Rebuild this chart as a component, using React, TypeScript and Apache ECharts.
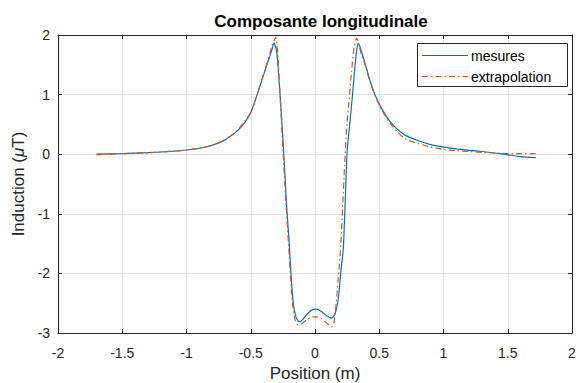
import React, { useEffect, useRef } from "react";
import * as echarts from "echarts";

const titleText = "Composante longitudinale";
const xName = "Position (m)";
const seriesNames = ["mesures", "extrapolation"];

const mesuresX = [-1.7, -1.5, -1.3, -1.1, -1.0, -0.9, -0.8, -0.7, -0.66, -0.6, -0.55, -0.5, -0.45, -0.4, -0.37, -0.34, -0.319, -0.3, -0.285, -0.272, -0.254, -0.24, -0.22, -0.202, -0.187, -0.169, -0.15, -0.13, -0.117, -0.09, -0.06, -0.03, 0.01, 0.05, 0.09, 0.13, 0.155, 0.176, 0.19, 0.202, 0.22, 0.235, 0.25, 0.27, 0.29, 0.31, 0.325, 0.337, 0.35, 0.37, 0.39, 0.43, 0.47, 0.52, 0.58, 0.64, 0.7, 0.8, 0.9, 1.0, 1.1, 1.2, 1.3, 1.4, 1.5, 1.6, 1.72];
const mesuresY = [0.0, 0.01, 0.025, 0.05, 0.07, 0.1, 0.15, 0.24, 0.3, 0.4, 0.52, 0.7, 1.0, 1.33, 1.53, 1.72, 1.87, 1.75, 1.4, 1.0, 0.41, -0.1, -0.9, -1.44, -2.0, -2.5, -2.72, -2.8, -2.81, -2.76, -2.68, -2.62, -2.6, -2.64, -2.71, -2.75, -2.68, -2.5, -2.25, -1.95, -1.6, -0.8, 0.05, 0.5, 0.95, 1.45, 1.75, 1.86, 1.8, 1.66, 1.52, 1.22, 0.98, 0.76, 0.56, 0.42, 0.32, 0.23, 0.16, 0.12, 0.09, 0.065, 0.045, 0.02, -0.01, -0.04, -0.06];

const extrapX = [-1.7, -1.5, -1.3, -1.1, -1.0, -0.9, -0.8, -0.7, -0.6, -0.5, -0.45, -0.4, -0.36, -0.33, -0.306, -0.29, -0.275, -0.26, -0.245, -0.225, -0.205, -0.19, -0.175, -0.155, -0.13, -0.1, -0.06, -0.02, 0.013, 0.05, 0.09, 0.13, 0.15, 0.165, 0.18, 0.2, 0.215, 0.23, 0.245, 0.265, 0.285, 0.305, 0.324, 0.34, 0.36, 0.39, 0.43, 0.47, 0.52, 0.58, 0.64, 0.7, 0.8, 0.9, 1.0, 1.1, 1.2, 1.3, 1.4, 1.5, 1.6, 1.72];
const extrapY = [-0.01, 0.01, 0.025, 0.05, 0.07, 0.1, 0.15, 0.24, 0.41, 0.7, 1.0, 1.35, 1.62, 1.85, 1.96, 1.7, 1.1, 0.5, -0.1, -0.85, -1.55, -2.05, -2.5, -2.78, -2.87, -2.84, -2.77, -2.73, -2.73, -2.76, -2.83, -2.9, -2.8, -2.5, -2.1, -1.55, -0.9, -0.2, 0.4, 0.9, 1.4, 1.8, 1.95, 1.85, 1.68, 1.5, 1.2, 0.97, 0.74, 0.53, 0.38, 0.26, 0.18, 0.12, 0.08, 0.06, 0.045, 0.03, 0.02, 0.01, 0.01, 0.01];

const FONT = "'Liberation Sans', Arial, Helvetica, sans-serif";
const TXT = "#262626";
const BLUE = "#0072BD";
const ORANGE = "#D95319";
const DASHDOT = [6, 3, 1.5, 3];

export default function App() {
  const ref = useRef<HTMLDivElement>(null);
  useEffect(() => {
    if (!ref.current) return;
    const chart = echarts.init(ref.current, undefined, { renderer: "svg" });
    const pairs = (xs: number[], ys: number[]) => xs.map((x, i) => [x, ys[i]]);
    const axisLine = { show: true, onZero: false, lineStyle: { color: TXT, width: 1 } };
    const tick = { show: true, inside: true, length: 4, lineStyle: { color: TXT } };
    chart.setOption({
      animation: false,
      backgroundColor: "#ffffff",
      textStyle: { fontFamily: FONT },
      title: {
        text: titleText,
        left: 316,
        top: 8,
        textAlign: "center",
        textStyle: { fontFamily: FONT, fontSize: 17, fontWeight: "bold", color: "#000" },
      },
      grid: { left: 58, right: 8, top: 35, bottom: 50, containLabel: false, outerBoundsMode: "none" },
      xAxis: [
        {
          type: "value",
          min: -2,
          max: 2,
          interval: 0.5,
          name: xName,
          nameLocation: "middle",
          nameGap: 32,
          nameTextStyle: { fontFamily: FONT, fontSize: 17, lineHeight: 17, color: TXT },
          axisLine,
          axisTick: tick,
          axisLabel: { fontFamily: FONT, fontSize: 14, color: TXT, margin: 13 },
          splitLine: { show: true, lineStyle: { color: "#e3e3e3", width: 1 } },
        },
        {
          type: "value",
          position: "top",
          min: -2,
          max: 2,
          interval: 0.5,
          axisLine,
          axisTick: tick,
          axisLabel: { show: false },
          splitLine: { show: false },
        },
      ],
      yAxis: [
        {
          type: "value",
          min: -3,
          max: 2,
          interval: 1,
          name: "Induction ({i|μ}T)",
          nameLocation: "middle",
          nameGap: 26,
          nameTextStyle: {
            fontFamily: FONT,
            fontSize: 17,
            color: TXT,
            rich: { i: { fontFamily: FONT, fontSize: 17, fontStyle: "italic", color: TXT } },
          },
          axisLine,
          axisTick: tick,
          axisLabel: { fontFamily: FONT, fontSize: 14, color: TXT, margin: 8 },
          splitLine: { show: true, lineStyle: { color: "#e3e3e3", width: 1 } },
        },
        {
          type: "value",
          position: "right",
          min: -3,
          max: 2,
          interval: 1,
          axisLine,
          axisTick: tick,
          axisLabel: { show: false },
          splitLine: { show: false },
        },
      ],
      graphic: [
        {
          type: "rect",
          z: 100,
          shape: { x: 417.5, y: 43.5, width: 150, height: 43 },
          style: { fill: "#ffffff", stroke: TXT, lineWidth: 1 },
        },
        {
          type: "line",
          z: 101,
          shape: { x1: 422, y1: 55.5, x2: 468, y2: 55.5 },
          style: { stroke: BLUE, lineWidth: 1 },
        },
        {
          type: "text",
          z: 101,
          x: 471,
          y: 55.5,
          style: { text: seriesNames[0], fontFamily: FONT, fontSize: 14, fill: "#000", verticalAlign: "middle" },
        },
        {
          type: "line",
          z: 101,
          shape: { x1: 422, y1: 76.5, x2: 468, y2: 76.5 },
          style: { stroke: ORANGE, lineWidth: 1, lineDash: DASHDOT },
        },
        {
          type: "text",
          z: 101,
          x: 471,
          y: 76.5,
          style: { text: seriesNames[1], fontFamily: FONT, fontSize: 14, fill: "#000", verticalAlign: "middle" },
        },
      ],
      series: [
        {
          name: seriesNames[0],
          type: "line",
          data: pairs(mesuresX, mesuresY),
          showSymbol: false,
          symbol: "none",
          smooth: 0.2,
          lineStyle: { color: BLUE, width: 1.2 },
          itemStyle: { color: BLUE },
          z: 3,
        },
        {
          name: seriesNames[1],
          type: "line",
          data: pairs(extrapX, extrapY),
          showSymbol: false,
          symbol: "none",
          smooth: 0.2,
          lineStyle: { color: ORANGE, width: 1.2, type: DASHDOT },
          itemStyle: { color: ORANGE },
          z: 4,
        },
      ],
    });
    return () => chart.dispose();
  }, []);
  return <div ref={ref} style={{ width: 580, height: 383, position: "absolute", left: 0, top: 0 }} />;
}
